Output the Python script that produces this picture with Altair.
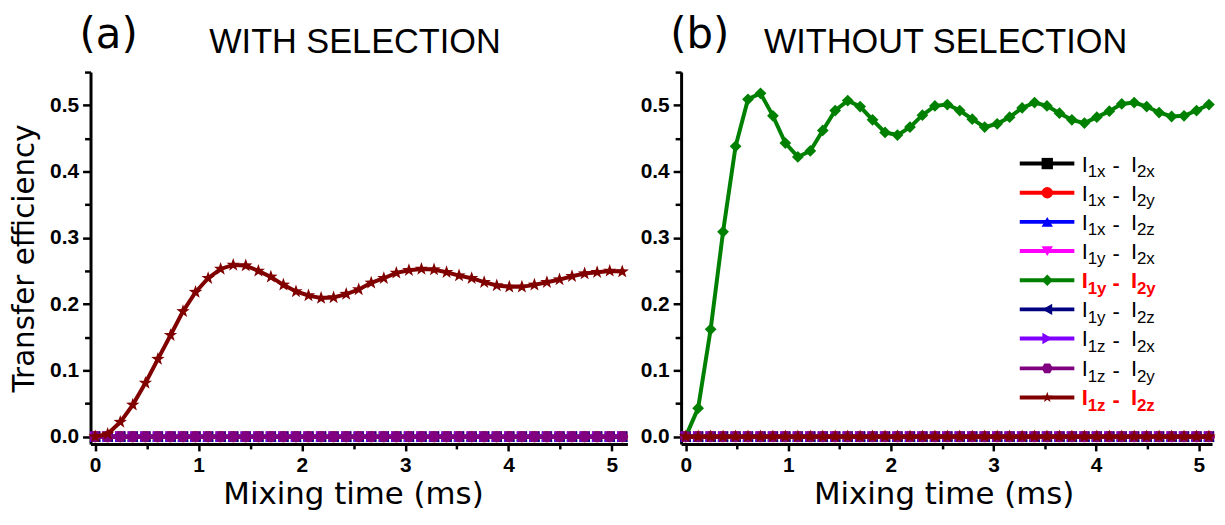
import altair as alt
import pandas as pd

# ---------------- data ----------------
TIME = [0.000, 0.121, 0.243, 0.364, 0.486, 0.607, 0.729, 0.850, 0.971, 1.093,
        1.214, 1.336, 1.457, 1.579, 1.700, 1.821, 1.943, 2.064, 2.186, 2.307,
        2.429, 2.550, 2.671, 2.793, 2.914, 3.036, 3.157, 3.279, 3.400, 3.521,
        3.643, 3.764, 3.886, 4.007, 4.129, 4.250, 4.371, 4.493, 4.614, 4.736,
        4.857, 4.979, 5.100]

# (a) WITH SELECTION : I1z - I2z
SEL_1Z_2Z = [0.000, 0.004, 0.022, 0.048, 0.081, 0.117, 0.153, 0.189, 0.218, 0.239,
             0.253, 0.259, 0.258, 0.250, 0.241, 0.229, 0.219, 0.213, 0.209, 0.210,
             0.215, 0.222, 0.232, 0.239, 0.247, 0.251, 0.253, 0.252, 0.248, 0.243,
             0.239, 0.233, 0.228, 0.226, 0.226, 0.229, 0.233, 0.237, 0.242, 0.246,
             0.248, 0.250, 0.249]

# (b) WITHOUT SELECTION : I1y - I2y
NOSEL_1Y_2Y = [0.000, 0.043, 0.162, 0.309, 0.438, 0.509, 0.518, 0.484, 0.443, 0.422,
               0.431, 0.462, 0.492, 0.507, 0.498, 0.478, 0.459, 0.455, 0.467, 0.485,
               0.499, 0.501, 0.492, 0.479, 0.467, 0.472, 0.482, 0.496, 0.504, 0.499,
               0.488, 0.478, 0.473, 0.482, 0.491, 0.502, 0.504, 0.498, 0.489, 0.483,
               0.484, 0.492, 0.501]

ZERO = [0.0] * len(TIME)

SUB1 = ["1x", "1x", "1x", "1y", "1y", "1y", "1z", "1z", "1z"]
SUB2 = ["2x", "2y", "2z", "2x", "2y", "2z", "2x", "2y", "2z"]
HIGHLIGHT = [False, False, False, False, True, False, False, False, True]
COLORS = ["#000000", "#FF0000", "#0000FF", "#FF00FF", "#008000",
          "#000080", "#8000FF", "#800080", "#800000"]
HEXAGON = "M-1,0L-0.5,-0.866L0.5,-0.866L1,0L0.5,0.866L-0.5,0.866Z"
STAR = ("M0,-1L0.235,-0.324L0.951,-0.309L0.380,0.124L0.588,0.809L0,0.4"
        "L-0.588,0.809L-0.380,0.124L-0.951,-0.309L-0.235,-0.324Z")
SHAPES = ["square", "circle", "triangle-up", "triangle-down", "diamond",
          "triangle-left", "triangle-right", HEXAGON, STAR]
SIZES = [110, 130, 130, 130, 140, 130, 130, 150, 200]

X_TICKS = [0, 0.5, 1, 1.5, 2, 2.5, 3, 3.5, 4, 4.5, 5]
Y_TICKS = [0, 0.05, 0.1, 0.15, 0.2, 0.25, 0.3, 0.35, 0.4, 0.45, 0.5, 0.55]

# legend placement (data units of panel b)
LEG_ROWS_Y = [0.412, 0.368, 0.324, 0.280, 0.236, 0.192, 0.148, 0.103, 0.059]
LEG_LINE = (3.256, 3.788)
LEG_MARK_X = 3.524
LEG_TEXT_X = 3.860

W_A, W_B, H = 540, 534, 374
XDOM_A = [-0.045, 5.15]
XDOM_B = [-0.045, 5.13]
YDOM = [-0.011, 0.55]

BOLD_FONT = "Liberation Sans"
TITLE_FONT = "DejaVu Sans"


def x_enc(field, dom):
    return alt.X(field, type="quantitative",
                 scale=alt.Scale(domain=dom, nice=False, zero=False),
                 axis=alt.Axis(values=X_TICKS,
                               labelExpr="datum.value % 1 == 0 ? format(datum.value, 'd') : ''",
                               title="Mixing time (ms)", titleFont=TITLE_FONT,
                               titleFontSize=31, titleFontWeight="normal",
                               titleColor="black", titlePadding=4, titleX=264,
                               labelFont=BOLD_FONT, labelFontSize=21,
                               labelFontWeight="bold", labelColor="black",
                               labelPadding=4, labelFlush=False, labelOverlap=False,
                               domainColor="black", domainWidth=3,
                               tickColor="black", tickWidth=2.5,
                               tickSize={"condition": {"test": "datum.value % 1 == 0", "value": 7}, "value": 5},
                               grid=False))


def y_enc(field, title):
    ax = dict(values=Y_TICKS,
              labelExpr="abs(datum.value*10 - round(datum.value*10)) < 0.001 ? format(datum.value, '.1f') : ''",
              labelFont=BOLD_FONT, labelFontSize=21, labelFontWeight="bold",
              labelColor="black", labelPadding=4, labelFlush=False, labelOverlap=False,
              domainColor="black", domainWidth=3, tickColor="black", tickWidth=2.5,
              tickSize={"condition": {"test": "abs(datum.value*10 - round(datum.value*10)) < 0.001", "value": 8}, "value": 6},
              grid=False)
    if title:
        ax.update(title=title, titleFont=TITLE_FONT, titleFontSize=29.5,
                  titleFontWeight="normal", titleColor="black", titlePadding=10)
    else:
        ax.update(title=None)
    return alt.Y(field, type="quantitative",
                 scale=alt.Scale(domain=YDOM, nice=False, zero=False),
                 axis=alt.Axis(**ax))


def panel(nonzero_idx, values, tag, heading, ytitle, legend, dom, width):
    layers = []
    for k in range(9):
        vals = values if k == nonzero_idx else ZERO
        df = pd.DataFrame({"t": TIME, "v": vals})
        base = alt.Chart(df).encode(x=x_enc("t", dom), y=y_enc("v", ytitle))
        layers.append(base.mark_line(color=COLORS[k], strokeWidth=4))
        layers.append(base.mark_point(shape=SHAPES[k], filled=True, color=COLORS[k],
                                      size=SIZES[k], opacity=1))
    # panel tag and heading
    tag_df = pd.DataFrame({"s": [tag]})
    layers.append(alt.Chart(tag_df).mark_text(font=TITLE_FONT, fontSize=42, align="left",
                                              baseline="alphabetic", color="black")
                  .encode(text="s:N", x=alt.value(-11), y=alt.value(-24)))
    head_df = pd.DataFrame({"s": [heading]})
    layers.append(alt.Chart(head_df).mark_text(font=BOLD_FONT, fontSize=34.5, align="center",
                                               baseline="alphabetic", color="black")
                  .encode(text="s:N", x=alt.value(266), y=alt.value(-19)))
    if legend:
        leg = pd.DataFrame({
            "ly": LEG_ROWS_Y, "x1": [LEG_LINE[0]] * 9, "x2": [LEG_LINE[1]] * 9,
            "mx": [LEG_MARK_X] * 9, "tx": [LEG_TEXT_X] * 9,
            "col": COLORS, "shp": SHAPES, "s1": SUB1, "s2": SUB2,
            "hl": HIGHLIGHT,
            "tcol": ["#FF0000" if h else "#000000" for h in HIGHLIGHT],
        })
        lb = alt.Chart(leg)
        layers.append(lb.mark_rule(strokeWidth=4).encode(
            x=x_enc("x1", dom), x2="x2", y=y_enc("ly", ytitle),
            color=alt.Color("col:N", scale=None)))
        layers.append(lb.mark_point(filled=True, opacity=1, size=130).encode(
            x=x_enc("mx", dom), y=y_enc("ly", ytitle),
            color=alt.Color("col:N", scale=None),
            shape=alt.Shape("shp:N", scale=None)))
        for hl, weight in [(False, "normal"), (True, "bold")]:
            sub = lb.transform_filter(alt.datum.hl == hl)
            pieces = [("I", 0, 8, 22), ("s1", 6, 13.5, 17), ("-", 31, 10, 22),
                      ("I", 49.5, 8, 22), ("s2", 55.5, 13.5, 17)]
            for txt, dx, dy, fs in pieces:
                mk = sub.mark_text(font=BOLD_FONT, fontSize=fs, fontWeight=weight,
                                   align="left", baseline="alphabetic", dx=dx, dy=dy)
                enc = dict(x=x_enc("tx", dom), y=y_enc("ly", ytitle),
                           color=alt.Color("tcol:N", scale=None))
                if txt in ("s1", "s2"):
                    enc["text"] = alt.Text(txt + ":N")
                else:
                    enc["text"] = alt.value(txt)
                layers.append(mk.encode(**enc))
    return alt.layer(*layers).properties(width=width, height=H)


left = panel(8, SEL_1Z_2Z, "(a)", "WITH SELECTION", "Transfer efficiency", False, XDOM_A, W_A)
right = panel(4, NOSEL_1Y_2Y, "(b)", "WITHOUT SELECTION", None, True, XDOM_B, W_B)

chart = (alt.hconcat(left, right, spacing=9)
         .properties(padding={"left": 1, "top": 5, "right": 0, "bottom": 0})
         .configure(background="white")
         .configure_view(stroke=None))

chart.save("out.html", embed_options={"renderer": "svg", "actions": False})
